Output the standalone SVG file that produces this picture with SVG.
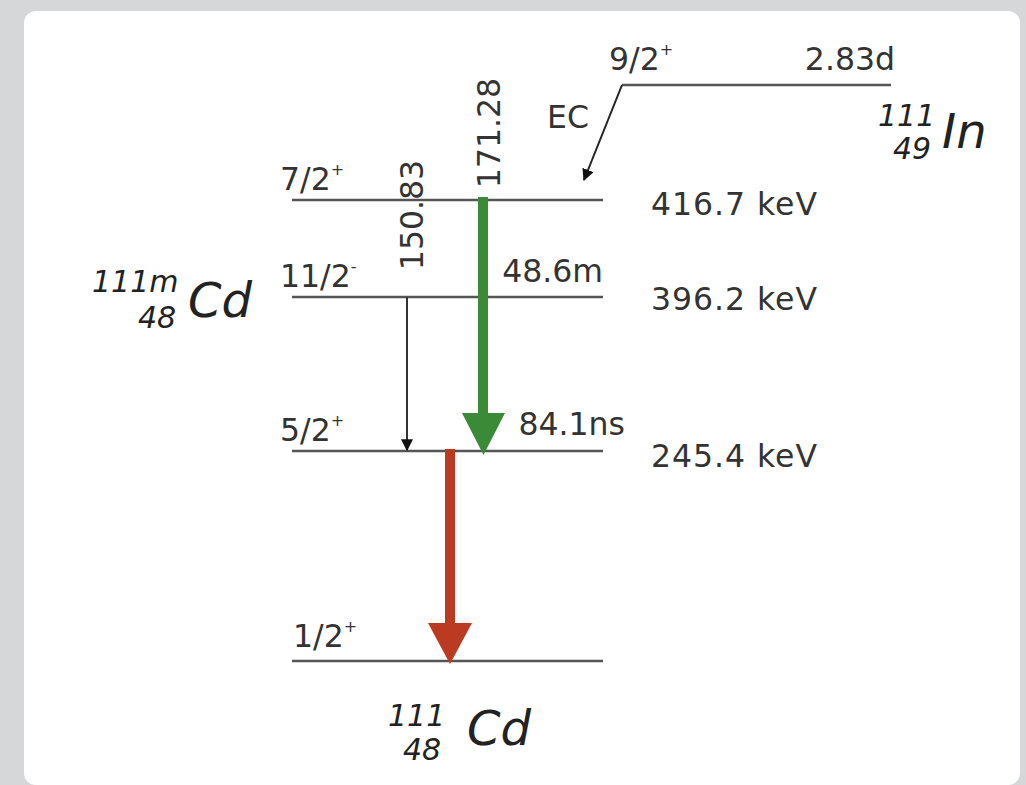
<svg xmlns="http://www.w3.org/2000/svg" width="1026" height="785" viewBox="0 0 1026 785">
<defs>
<style>
.t{font-family:"DejaVu Sans","Liberation Sans",sans-serif;font-size:31.5px;fill:#333;}
.i{font-family:"DejaVu Sans","Liberation Sans",sans-serif;font-style:italic;fill:#222;}
.n{font-size:30px;}
.lv{stroke:#555;stroke-width:2.5;fill:none;}
.sup{font-size:16px;}
</style>
<marker id="ah" viewBox="0 0 10 10" refX="9" refY="5" markerWidth="6" markerHeight="6" orient="auto" markerUnits="strokeWidth">
<path d="M0,0 L10,5 L0,10 z" fill="#111"/>
</marker>
</defs>
<rect width="1026" height="785" fill="#d6d7d9"/>
<rect x="24" y="11" width="996" height="774" rx="12" fill="#fff"/>

<g id="level-in">
<line class="lv" x1="622" y1="85" x2="891" y2="85"/>
<text class="t" x="609" y="70">9/2<tspan class="sup" dy="-15">+</tspan></text>
<text class="t" x="895" y="70" text-anchor="end">2.83d</text>
<text class="i n" x="878" y="126">111</text>
<text class="i n" x="893" y="159">49</text>
<text class="i" x="942" y="148" font-size="48">In</text>
</g>

<g id="level-416">
<line class="lv" x1="292" y1="200" x2="603" y2="200"/>
<text class="t" x="280" y="190">7/2<tspan class="sup" dy="-15">+</tspan></text>
<text class="t" x="651" y="215" textLength="166">416.7 keV</text>
</g>

<g id="level-396">
<line class="lv" x1="292" y1="297" x2="603" y2="297"/>
<text class="t" x="280" y="287">11/2<tspan class="sup" dy="-15">-</tspan></text>
<text class="t" x="603" y="282" text-anchor="end">48.6m</text>
<text class="t" x="651" y="310" textLength="166">396.2 keV</text>
</g>

<g id="level-245">
<line class="lv" x1="292" y1="451" x2="603" y2="451"/>
<text class="t" x="280" y="441">5/2<tspan class="sup" dy="-15">+</tspan></text>
<text class="t" x="625" y="435" text-anchor="end">84.1ns</text>
<text class="t" x="651" y="467" textLength="166">245.4 keV</text>
</g>

<g id="level-0">
<line class="lv" x1="292" y1="661" x2="603" y2="661"/>
<text class="t" x="293" y="647">1/2<tspan class="sup" dy="-15">+</tspan></text>
</g>

<g id="label-cd111m">
<text class="i n" x="92" y="292">111m</text>
<text class="i n" x="138" y="328">48</text>
<text class="i" x="188" y="317" font-size="48">Cd</text>
</g>

<g id="label-cd111">
<text class="i n" x="388" y="726">111</text>
<text class="i n" x="403" y="760">48</text>
<text class="i" x="467" y="745" font-size="48">Cd</text>
</g>

<g id="connectors">
<line x1="622" y1="85" x2="584" y2="180" stroke="#222" stroke-width="2" marker-end="url(#ah)"/>
<text class="t" x="547" y="128">EC</text>
<line x1="407" y1="297" x2="407" y2="450" stroke="#333" stroke-width="2" marker-end="url(#ah)"/>
<text class="t" transform="rotate(-90 423 215)" x="423" y="215" text-anchor="middle">150.83</text>
<text class="t" transform="rotate(-90 500 133)" x="500" y="133" text-anchor="middle">171.28</text>
<g id="gamma-171">
<rect x="478" y="197" width="10" height="220" fill="#3b8a38"/>
<polygon points="462,413 505,413 483.5,455" fill="#3b8a38"/>
</g>
<g id="gamma-245">
<rect x="445" y="449" width="10" height="178" fill="#bb3a22"/>
<polygon points="428,623 472,623 450,664" fill="#bb3a22"/>
</g>
</g>
</svg>
